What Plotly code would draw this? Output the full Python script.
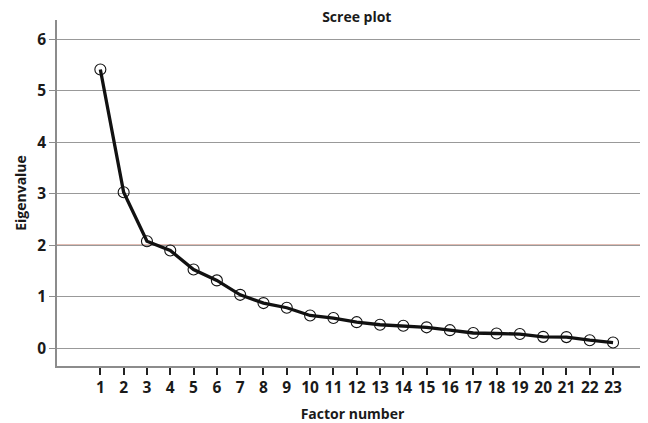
import plotly.graph_objects as go

factors = list(range(1, 24))
eigenvalues = [5.41, 3.03, 2.08, 1.90, 1.53, 1.32, 1.04, 0.88, 0.79, 0.64, 0.59, 0.51,
               0.46, 0.44, 0.41, 0.355, 0.30, 0.29, 0.28, 0.225, 0.22, 0.16, 0.115]
y_ticks = [0, 1, 2, 3, 4, 5, 6]
threshold = 2

FONT = "Open Sans"
TXT = "#1a1a1a"

fig = go.Figure()
fig.add_trace(go.Scatter(
    x=factors, y=eigenvalues, mode="lines+markers",
    line=dict(color="#111111", width=3.3),
    marker=dict(symbol="circle-open", size=11, color="#111111", line=dict(width=1.1)),
    showlegend=False, hoverinfo="x+y",
))

fig.add_shape(type="line", xref="paper", yref="y", x0=0, x1=1, y0=threshold, y1=threshold,
              line=dict(color="#c47a68", width=1.5), layer="below")

fig.update_layout(
    width=640, height=415,
    margin=dict(l=49, r=0, t=12, b=57),
    paper_bgcolor="white", plot_bgcolor="white",
    font=dict(family=FONT, color=TXT),
    title=dict(text="<b>Scree plot</b>", x=0.545, xanchor="center", y=0.978, yanchor="middle",
               font=dict(size=14, family=FONT, color=TXT)),
    xaxis=dict(
        range=[-0.86, 24.5], tickmode="array", tickvals=factors,
        ticktext=[f"<b>{f}</b>" for f in factors],
        showgrid=False, zeroline=False,
        showline=True, linecolor="#8c8c8c", linewidth=1.5,
        ticks="outside", ticklen=7, tickwidth=1.5, tickcolor="#222222",
        tickfont=dict(size=15.5, family=FONT, color=TXT),
        title=dict(text="<b>Factor number</b>", font=dict(size=14, family=FONT, color=TXT), standoff=14),
    ),
    yaxis=dict(
        range=[-0.34, 6.37], tickmode="array", tickvals=y_ticks,
        ticktext=[f"<b>{v}</b>" for v in y_ticks],
        showgrid=True, gridcolor="#999999", gridwidth=1.4, zeroline=False,
        showline=True, linecolor="#8c8c8c", linewidth=1.5,
        ticks="outside", ticklen=6, tickwidth=1.3, tickcolor="#8c8c8c",
        tickfont=dict(size=15.5, family=FONT, color=TXT),
        title=dict(text="<b>Eigenvalue</b>", font=dict(size=14, family=FONT, color=TXT), standoff=7),
    ),
)

fig.write_html("out.html")
